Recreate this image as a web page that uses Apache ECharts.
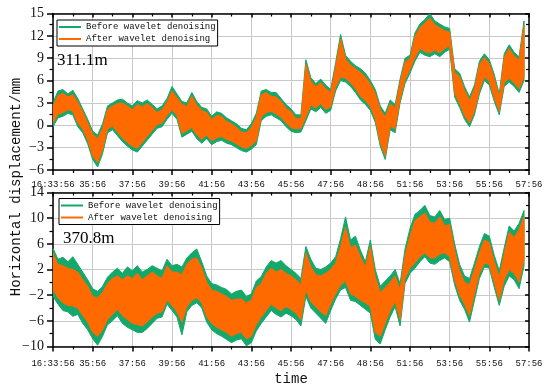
<!DOCTYPE html>
<html>
<head>
<meta charset="utf-8">
<script src="https://cdn.jsdelivr.net/npm/echarts@6/dist/echarts.min.js"></script>
<style>html,body{margin:0;padding:0;background:#fff}#c{width:550px;height:389px}</style>
</head>
<body>
<div id="c"></div>
<script>
// ---- data (minutes after 16:33:56, sampled every 0.25 min; band envelope of each record) ----
const xTickLabels = ['16:33:56','35:56','37:56','39:56','41:56','43:56','45:56','47:56','48:56','51:56','53:56','55:56','57:56'];
const sampleStep = 0.25;
const seriesNames = ['Before wavelet denoising', 'After wavelet denoising'];
const panelLabels = ['311.1m', '370.8m'];

// panel 1 (311.1m)
const topBeforeHigh = [3.0,4.6,4.8,4.2,4.7,3.6,2.2,0.8,-0.8,-1.3,0.2,2.6,3.0,3.4,3.5,3.0,2.6,3.3,3.0,3.4,2.8,2.2,2.6,3.6,5.2,4.2,3.2,3.0,4.4,3.2,2.4,2.2,1.2,1.8,1.6,1.0,0.6,0.2,-0.4,-0.6,0.2,1.6,4.6,4.8,4.4,4.4,3.6,2.8,2.2,1.4,1.4,8.8,6.4,5.6,6.2,5.4,4.8,8.4,12.2,9.4,8.6,8.0,7.6,7.0,6.0,4.8,2.6,1.6,3.4,2.8,6.2,9.0,9.4,12.4,13.6,14.2,15.0,14.0,13.6,13.2,13.0,7.6,7.0,5.2,3.8,5.4,8.6,9.6,8.8,6.8,4.2,9.6,10.8,9.8,9.2,14.0];
const topBeforeLow = [-0.2,1.0,1.2,1.6,1.4,-0.2,-1.0,-2.5,-4.6,-5.6,-3.8,-1.0,-0.6,-1.4,-2.2,-2.8,-3.3,-3.6,-2.8,-2.0,-1.2,-0.4,-0.2,0.8,1.6,0.8,-1.6,-1.2,-0.8,-1.8,-2.4,-1.8,-2.6,-2.2,-2.0,-2.4,-2.6,-3.0,-3.4,-3.6,-3.2,-2.6,0.6,1.2,1.4,1.0,0.6,-0.2,-0.8,-1.0,-0.9,0.6,2.2,1.8,2.4,1.6,2.0,4.6,6.0,5.8,5.2,4.4,3.4,2.8,2.0,0.4,-2.8,-4.6,-0.6,-1.0,3.0,5.6,7.0,8.6,9.8,9.4,9.2,9.6,9.2,9.8,10.2,3.8,2.4,0.8,-0.2,1.4,4.2,6.0,5.4,3.2,1.4,5.2,5.8,5.2,4.4,6.0];
const topAfterHigh = [2.5,4.0,4.3,3.8,4.1,3.1,1.8,0.3,-1.2,-1.8,-0.4,2.1,2.6,2.9,3.0,2.6,2.1,2.8,2.5,2.9,2.4,1.7,2.1,3.1,4.6,3.7,2.8,2.5,3.9,2.7,2.0,1.7,0.8,1.3,1.2,0.5,0.2,-0.3,-0.9,-1.0,-0.3,1.1,4.1,4.4,3.9,3.8,3.2,2.3,1.8,0.9,0.9,8.2,5.9,5.2,5.7,4.9,4.4,7.8,11.6,8.9,8.1,7.6,7.1,6.5,5.5,4.3,2.1,1.1,2.9,2.3,5.7,8.5,8.9,11.9,13.1,13.7,14.4,13.5,13.1,12.7,12.5,7.1,6.5,4.7,3.3,4.9,8.1,9.1,8.3,6.3,3.7,9.1,10.3,9.3,8.7,13.4];
const topAfterLow = [0.3,1.5,1.7,2.1,1.9,0.3,-0.5,-2.0,-4.1,-5.0,-3.3,-0.5,-0.1,-0.9,-1.7,-2.3,-2.8,-3.1,-2.3,-1.5,-0.7,0.1,0.3,1.3,2.1,1.3,-1.1,-0.7,-0.3,-1.3,-1.9,-1.3,-2.1,-1.7,-1.5,-1.9,-2.1,-2.5,-2.9,-3.1,-2.7,-2.1,1.1,1.7,1.9,1.5,1.1,0.3,-0.3,-0.5,-0.4,1.1,2.7,2.3,2.9,2.1,2.5,5.1,6.5,6.3,5.7,4.9,3.9,3.3,2.5,0.9,-2.3,-4.1,-0.1,-0.5,3.5,6.1,7.5,9.1,10.3,9.9,9.7,10.1,9.7,10.3,10.7,4.3,2.9,1.3,0.3,1.9,4.7,6.5,5.9,3.7,1.9,5.7,6.3,5.7,4.9,6.5];

// panel 2 (370.8m)
const botBeforeHigh = [5.3,3.6,3.9,3.2,4.0,2.8,1.6,0.4,-1.0,-1.4,-0.6,0.8,1.6,2.2,1.4,2.4,1.8,2.6,1.6,2.0,2.6,2.2,1.8,3.6,2.6,2.8,2.4,3.8,4.6,5.2,3.2,1.0,-0.2,-0.4,-0.8,-1.1,-1.8,-1.4,-1.2,-2.2,-1.8,0.2,0.9,2.4,3.4,3.0,3.4,2.6,2.0,1.4,0.6,5.6,3.6,2.2,2.0,2.4,3.0,4.0,6.8,10.2,6.6,7.2,5.0,3.2,6.6,2.0,-0.6,0.2,1.0,2.0,-0.2,5.2,8.4,10.6,11.2,12.0,10.4,10.2,11.2,9.8,10.0,6.0,2.8,1.0,0.6,3.0,5.6,7.6,7.2,4.2,1.8,5.4,8.8,8.0,9.2,11.2];
const botBeforeLow = [-2.2,-3.4,-4.4,-4.6,-5.3,-5.0,-6.4,-7.4,-8.8,-9.8,-8.4,-6.6,-6.0,-5.2,-6.4,-7.0,-7.4,-7.8,-7.8,-7.2,-6.4,-5.6,-5.4,-3.4,-4.4,-5.4,-8.2,-4.6,-3.6,-3.2,-4.0,-6.2,-7.4,-8.0,-8.4,-8.9,-9.4,-9.0,-8.8,-9.9,-9.4,-7.6,-6.4,-5.4,-4.4,-5.0,-5.4,-4.8,-5.2,-5.8,-6.8,-2.2,-4.0,-4.8,-5.6,-6.4,-4.4,-2.6,-1.2,-0.8,-2.8,-3.0,-3.6,-4.2,-4.8,-8.9,-9.6,-7.4,-5.4,-3.8,-6.8,-0.2,1.4,2.2,3.2,4.0,3.0,2.8,3.4,3.8,3.2,-0.4,-2.8,-4.2,-6.2,-2.8,0.6,2.4,2.2,-0.8,-3.6,-0.6,1.0,0.4,-1.0,2.6];
const botAfterHigh = [4.5,2.8,2.6,2.2,2.0,1.6,0.4,-0.6,-2.2,-2.4,-1.6,-0.2,0.6,1.0,0.4,1.0,0.6,1.4,0.4,1.0,1.6,1.0,0.6,2.6,1.6,1.6,1.2,2.8,3.6,3.8,2.2,0.0,-1.2,-1.4,-1.8,-2.2,-2.8,-2.6,-2.6,-3.2,-2.8,-0.8,-0.2,1.4,2.2,1.6,2.0,1.4,1.0,0.4,-0.4,4.6,2.4,1.2,1.0,1.4,2.0,3.0,5.6,8.6,5.4,5.8,4.0,2.4,5.6,0.8,-1.6,-0.8,0.0,1.0,-1.2,4.2,7.2,9.6,10.2,10.8,9.4,9.2,10.2,8.8,9.0,5.0,1.8,0.0,-0.4,2.0,4.6,6.6,6.2,3.2,0.8,4.4,7.8,7.0,8.2,10.2];
const botAfterLow = [-1.1,-2.4,-3.2,-3.6,-3.7,-4.0,-5.2,-6.2,-7.8,-8.4,-7.4,-5.8,-5.0,-4.2,-5.2,-5.8,-6.4,-6.6,-6.8,-6.2,-5.4,-4.8,-4.6,-2.8,-3.6,-4.6,-6.2,-3.8,-2.8,-2.4,-3.2,-5.4,-6.4,-7.0,-7.4,-7.8,-8.4,-8.0,-7.8,-8.8,-8.4,-6.6,-5.4,-4.4,-3.4,-4.0,-4.4,-3.8,-4.2,-4.8,-5.8,-1.2,-3.0,-3.8,-4.6,-5.2,-3.4,-1.8,-0.4,0.2,-1.8,-2.2,-2.8,-3.2,-3.8,-7.8,-8.4,-6.4,-4.4,-3.0,-5.8,0.6,2.2,3.0,4.0,4.6,3.8,3.8,4.4,4.6,4.0,0.4,-2.0,-3.4,-5.2,-1.8,1.4,3.0,2.8,0.0,-2.8,0.4,2.0,1.4,0.0,3.6];

// ---- styling ----
const GREEN = '#14a86a';
const ORANGE = '#ff6a00';
const MONO = 'Liberation Mono';
const SERIF = 'Liberation Serif';
const INK = '#111';

const chart = echarts.init(document.getElementById('c'), null, {renderer: 'canvas'});

const grids = [
  {left: 53, top: 13.5, width: 476, height: 156.5},
  {left: 53, top: 192.5, width: 476, height: 154}
];
const yRanges = [{min: -6, max: 15, interval: 3}, {min: -10, max: 14, interval: 4}];
const xLabelMargins = [10, 13];

const xAxes = [], yAxes = [];
grids.forEach((g, gi) => {
  xAxes.push({
    type: 'value', gridIndex: gi, position: 'bottom', min: 0, max: 24, interval: 2,
    axisLine: {show: true, onZero: false, lineStyle: {color: '#000', width: 1.5}},
    axisTick: {show: true, inside: false, length: 5, lineStyle: {color: '#000', width: 1.5}},
    minorTick: {show: true, splitNumber: 2, length: 3, lineStyle: {color: '#000', width: 1.2}},
    splitLine: {show: true, lineStyle: {color: '#c9c9c9', width: 1}},
    axisLabel: {margin: xLabelMargins[gi], fontFamily: MONO, fontSize: 9, color: INK,
      formatter: v => xTickLabels[Math.round(v / 2)]}
  });
  xAxes.push({
    type: 'value', gridIndex: gi, position: 'top', min: 0, max: 24, interval: 2,
    axisLine: {show: true, onZero: false, lineStyle: {color: '#000', width: 1.5}},
    axisTick: {show: true, inside: true, length: 4, lineStyle: {color: '#000', width: 1.5}},
    minorTick: {show: true, splitNumber: 2, length: 3, lineStyle: {color: '#000', width: 1.2}},
    splitLine: {show: false}, axisLabel: {show: false}
  });
  const r = yRanges[gi];
  yAxes.push({
    type: 'value', gridIndex: gi, position: 'left', min: r.min, max: r.max, interval: r.interval,
    axisLine: {show: true, onZero: false, lineStyle: {color: '#000', width: 1.5}},
    axisTick: {show: true, inside: false, length: 6, lineStyle: {color: '#000', width: 1.5}},
    minorTick: {show: true, splitNumber: 2, length: 3.5, lineStyle: {color: '#000', width: 1.2}},
    splitLine: {show: true, lineStyle: {color: '#c9c9c9', width: 1}},
    axisLabel: {margin: 9, fontFamily: SERIF, fontSize: 14, color: INK,
      formatter: v => String(v).replace('-', '\u2212')}
  });
  yAxes.push({
    type: 'value', gridIndex: gi, position: 'right', min: r.min, max: r.max, interval: r.interval,
    axisLine: {show: true, onZero: false, lineStyle: {color: '#000', width: 1.5}},
    axisTick: {show: true, inside: true, length: 4, lineStyle: {color: '#000', width: 1.5}},
    minorTick: {show: true, splitNumber: 2, length: 3, lineStyle: {color: '#000', width: 1.2}},
    splitLine: {show: false}, axisLabel: {show: false}
  });
});

const times = topBeforeHigh.map((_, i) => i * sampleStep);

// band between low and high envelopes, drawn as one polygon through the axis scales
function band(gi, low, high, color, name) {
  const ax = gi * 2;
  return {
    type: 'custom', name: name, xAxisIndex: ax, yAxisIndex: ax,
    data: times.map((t, i) => [t, low[i], high[i]]),
    encode: {x: 0, y: [1, 2]},
    itemStyle: {color: color},
    clip: true,
    renderItem: function (params, api) {
      if (params.dataIndexInside !== 0) return null;
      const n = params.dataInsideLength;
      const up = [], dn = [];
      for (let k = 0; k < n; k++) {
        const t = api.value(0, k);
        up.push(api.coord([t, api.value(2, k)]));
        dn.push(api.coord([t, api.value(1, k)]));
      }
      const pts = up.concat(dn.reverse());
      return {
        type: 'polygon',
        shape: {points: pts},
        style: {fill: color, stroke: color, lineWidth: 1, lineJoin: 'miter'}
      };
    }
  };
}

const series = [
  band(0, topBeforeLow, topBeforeHigh, GREEN, seriesNames[0]),
  band(0, topAfterLow, topAfterHigh, ORANGE, seriesNames[1]),
  band(1, botBeforeLow, botBeforeHigh, GREEN, seriesNames[0]),
  band(1, botAfterLow, botAfterHigh, ORANGE, seriesNames[1])
];

const legendBase = {
  data: seriesNames, orient: 'vertical', icon: 'rect', itemWidth: 22, itemHeight: 2,
  itemGap: 2, padding: [2, 2, 2, 2], backgroundColor: '#fff', borderColor: '#000', borderWidth: 1,
  borderRadius: 0, selectedMode: false,
  textStyle: {fontFamily: MONO, fontSize: 9, color: INK, lineHeight: 10, padding: [0, 0, 0, 0]}
};

chart.setOption({
  animation: false,
  backgroundColor: '#fff',
  grid: grids,
  xAxis: xAxes,
  yAxis: yAxes,
  legend: [
    Object.assign({}, legendBase, {left: 57, top: 20}),
    Object.assign({}, legendBase, {left: 59, top: 198.5})
  ],
  series: series,
  graphic: [
    {type: 'text', left: 57, top: 52, z: 10, style: {text: panelLabels[0], font: '17px "' + SERIF + '"', fill: '#000'}},
    {type: 'text', left: 63, top: 230, z: 10, style: {text: panelLabels[1], font: '17px "' + SERIF + '"', fill: '#000'}},
    {type: 'text', x: 16, y: 187, rotation: Math.PI / 2,
      style: {text: 'Horizontal displacement/mm', font: '14px "' + MONO + '"', fill: INK, textAlign: 'center', textVerticalAlign: 'middle'}},
    {type: 'text', x: 291, y: 379,
      style: {text: 'time', font: '14px "' + MONO + '"', fill: INK, textAlign: 'center', textVerticalAlign: 'middle'}}
  ]
});
</script>
</body>
</html>
